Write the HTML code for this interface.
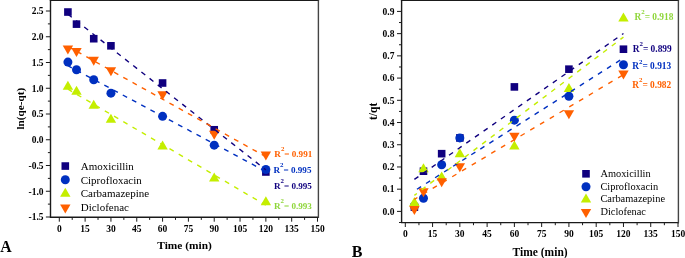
<!DOCTYPE html>
<html><head><meta charset="utf-8"><title>Kinetic fits</title>
<style>
html,body{margin:0;padding:0;background:#fff;}
body{width:685px;height:258px;overflow:hidden;}
svg{display:block;will-change:transform;}
</style></head><body>
<svg width="685" height="258" viewBox="0 0 685 258">
<rect width="685" height="258" fill="#fff"/>
<path d="M50.5 0.25V217.3H318" fill="none" stroke="#1a1a1a" stroke-width="1.4" stroke-linecap="square"/>
<line x1="49.8" y1="0.25" x2="319.1" y2="0.25" stroke="#1a1a1a" stroke-width="1.4"/>
<line x1="318.4" y1="0.25" x2="318.4" y2="218" stroke="#444" stroke-width="1.4"/>
<line x1="45.9" y1="217" x2="50.5" y2="217" stroke="#1a1a1a" stroke-width="1"/>
<text x="43.6" y="220.3" text-anchor="end" style='font-family:"Liberation Serif",serif;font-weight:bold;font-size:9.5px'>-1.5</text>
<line x1="47.9" y1="204.12" x2="50.5" y2="204.12" stroke="#1a1a1a" stroke-width="1"/>
<line x1="45.9" y1="191.25" x2="50.5" y2="191.25" stroke="#1a1a1a" stroke-width="1"/>
<text x="43.6" y="194.55" text-anchor="end" style='font-family:"Liberation Serif",serif;font-weight:bold;font-size:9.5px'>-1.0</text>
<line x1="47.9" y1="178.38" x2="50.5" y2="178.38" stroke="#1a1a1a" stroke-width="1"/>
<line x1="45.9" y1="165.5" x2="50.5" y2="165.5" stroke="#1a1a1a" stroke-width="1"/>
<text x="43.6" y="168.8" text-anchor="end" style='font-family:"Liberation Serif",serif;font-weight:bold;font-size:9.5px'>-0.5</text>
<line x1="47.9" y1="152.62" x2="50.5" y2="152.62" stroke="#1a1a1a" stroke-width="1"/>
<line x1="45.9" y1="139.75" x2="50.5" y2="139.75" stroke="#1a1a1a" stroke-width="1"/>
<text x="43.6" y="143.05" text-anchor="end" style='font-family:"Liberation Serif",serif;font-weight:bold;font-size:9.5px'>0.0</text>
<line x1="47.9" y1="126.88" x2="50.5" y2="126.88" stroke="#1a1a1a" stroke-width="1"/>
<line x1="45.9" y1="114" x2="50.5" y2="114" stroke="#1a1a1a" stroke-width="1"/>
<text x="43.6" y="117.3" text-anchor="end" style='font-family:"Liberation Serif",serif;font-weight:bold;font-size:9.5px'>0.5</text>
<line x1="47.9" y1="101.12" x2="50.5" y2="101.12" stroke="#1a1a1a" stroke-width="1"/>
<line x1="45.9" y1="88.25" x2="50.5" y2="88.25" stroke="#1a1a1a" stroke-width="1"/>
<text x="43.6" y="91.55" text-anchor="end" style='font-family:"Liberation Serif",serif;font-weight:bold;font-size:9.5px'>1.0</text>
<line x1="47.9" y1="75.38" x2="50.5" y2="75.38" stroke="#1a1a1a" stroke-width="1"/>
<line x1="45.9" y1="62.5" x2="50.5" y2="62.5" stroke="#1a1a1a" stroke-width="1"/>
<text x="43.6" y="65.8" text-anchor="end" style='font-family:"Liberation Serif",serif;font-weight:bold;font-size:9.5px'>1.5</text>
<line x1="47.9" y1="49.62" x2="50.5" y2="49.62" stroke="#1a1a1a" stroke-width="1"/>
<line x1="45.9" y1="36.75" x2="50.5" y2="36.75" stroke="#1a1a1a" stroke-width="1"/>
<text x="43.6" y="40.05" text-anchor="end" style='font-family:"Liberation Serif",serif;font-weight:bold;font-size:9.5px'>2.0</text>
<line x1="47.9" y1="23.88" x2="50.5" y2="23.88" stroke="#1a1a1a" stroke-width="1"/>
<line x1="45.9" y1="11" x2="50.5" y2="11" stroke="#1a1a1a" stroke-width="1"/>
<text x="43.6" y="14.3" text-anchor="end" style='font-family:"Liberation Serif",serif;font-weight:bold;font-size:9.5px'>2.5</text>
<line x1="59.3" y1="217.3" x2="59.3" y2="221.7" stroke="#1a1a1a" stroke-width="1"/>
<text x="59.3" y="231.5" text-anchor="middle" style='font-family:"Liberation Serif",serif;font-weight:bold;font-size:9.5px'>0</text>
<line x1="72.21" y1="217.3" x2="72.21" y2="219.9" stroke="#1a1a1a" stroke-width="1"/>
<line x1="85.12" y1="217.3" x2="85.12" y2="221.7" stroke="#1a1a1a" stroke-width="1"/>
<text x="85.12" y="231.5" text-anchor="middle" style='font-family:"Liberation Serif",serif;font-weight:bold;font-size:9.5px'>15</text>
<line x1="98.03" y1="217.3" x2="98.03" y2="219.9" stroke="#1a1a1a" stroke-width="1"/>
<line x1="110.94" y1="217.3" x2="110.94" y2="221.7" stroke="#1a1a1a" stroke-width="1"/>
<text x="110.94" y="231.5" text-anchor="middle" style='font-family:"Liberation Serif",serif;font-weight:bold;font-size:9.5px'>30</text>
<line x1="123.85" y1="217.3" x2="123.85" y2="219.9" stroke="#1a1a1a" stroke-width="1"/>
<line x1="136.76" y1="217.3" x2="136.76" y2="221.7" stroke="#1a1a1a" stroke-width="1"/>
<text x="136.76" y="231.5" text-anchor="middle" style='font-family:"Liberation Serif",serif;font-weight:bold;font-size:9.5px'>45</text>
<line x1="149.67" y1="217.3" x2="149.67" y2="219.9" stroke="#1a1a1a" stroke-width="1"/>
<line x1="162.58" y1="217.3" x2="162.58" y2="221.7" stroke="#1a1a1a" stroke-width="1"/>
<text x="162.58" y="231.5" text-anchor="middle" style='font-family:"Liberation Serif",serif;font-weight:bold;font-size:9.5px'>60</text>
<line x1="175.49" y1="217.3" x2="175.49" y2="219.9" stroke="#1a1a1a" stroke-width="1"/>
<line x1="188.4" y1="217.3" x2="188.4" y2="221.7" stroke="#1a1a1a" stroke-width="1"/>
<text x="188.4" y="231.5" text-anchor="middle" style='font-family:"Liberation Serif",serif;font-weight:bold;font-size:9.5px'>75</text>
<line x1="201.31" y1="217.3" x2="201.31" y2="219.9" stroke="#1a1a1a" stroke-width="1"/>
<line x1="214.22" y1="217.3" x2="214.22" y2="221.7" stroke="#1a1a1a" stroke-width="1"/>
<text x="214.22" y="231.5" text-anchor="middle" style='font-family:"Liberation Serif",serif;font-weight:bold;font-size:9.5px'>90</text>
<line x1="227.13" y1="217.3" x2="227.13" y2="219.9" stroke="#1a1a1a" stroke-width="1"/>
<line x1="240.04" y1="217.3" x2="240.04" y2="221.7" stroke="#1a1a1a" stroke-width="1"/>
<text x="240.04" y="231.5" text-anchor="middle" style='font-family:"Liberation Serif",serif;font-weight:bold;font-size:9.5px'>105</text>
<line x1="252.95" y1="217.3" x2="252.95" y2="219.9" stroke="#1a1a1a" stroke-width="1"/>
<line x1="265.86" y1="217.3" x2="265.86" y2="221.7" stroke="#1a1a1a" stroke-width="1"/>
<text x="265.86" y="231.5" text-anchor="middle" style='font-family:"Liberation Serif",serif;font-weight:bold;font-size:9.5px'>120</text>
<line x1="278.77" y1="217.3" x2="278.77" y2="219.9" stroke="#1a1a1a" stroke-width="1"/>
<line x1="291.68" y1="217.3" x2="291.68" y2="221.7" stroke="#1a1a1a" stroke-width="1"/>
<text x="291.68" y="231.5" text-anchor="middle" style='font-family:"Liberation Serif",serif;font-weight:bold;font-size:9.5px'>135</text>
<line x1="304.59" y1="217.3" x2="304.59" y2="219.9" stroke="#1a1a1a" stroke-width="1"/>
<line x1="317.5" y1="217.3" x2="317.5" y2="221.7" stroke="#1a1a1a" stroke-width="1"/>
<text x="317.5" y="231.5" text-anchor="middle" style='font-family:"Liberation Serif",serif;font-weight:bold;font-size:9.5px'>150</text>
<rect x="64.11" y="8.23" width="7.6" height="7.6" fill="#10007f"/>
<rect x="72.71" y="20.33" width="7.6" height="7.6" fill="#10007f"/>
<rect x="89.93" y="34.91" width="7.6" height="7.6" fill="#10007f"/>
<rect x="107.14" y="42.01" width="7.6" height="7.6" fill="#10007f"/>
<rect x="158.78" y="79.2" width="7.6" height="7.6" fill="#10007f"/>
<rect x="210.42" y="125.96" width="7.6" height="7.6" fill="#10007f"/>
<rect x="262.06" y="168.19" width="7.6" height="7.6" fill="#10007f"/>
<circle cx="67.91" cy="62.09" r="4.5" fill="#0030c0"/>
<circle cx="76.51" cy="69.71" r="4.5" fill="#0030c0"/>
<circle cx="93.73" cy="79.8" r="4.5" fill="#0030c0"/>
<circle cx="110.94" cy="93.19" r="4.5" fill="#0030c0"/>
<circle cx="162.58" cy="116.32" r="4.5" fill="#0030c0"/>
<circle cx="214.22" cy="145.16" r="4.5" fill="#0030c0"/>
<circle cx="265.86" cy="169.52" r="4.5" fill="#0030c0"/>
<path d="M67.91 80.71L73.11 89.71L62.71 89.71Z" fill="#c4ee00"/>
<path d="M76.51 85.86L81.71 94.86L71.31 94.86Z" fill="#c4ee00"/>
<path d="M93.73 99.72L98.93 108.72L88.53 108.72Z" fill="#c4ee00"/>
<path d="M110.94 113.72L116.14 122.72L105.74 122.72Z" fill="#c4ee00"/>
<path d="M162.58 140.4L167.78 149.4L157.38 149.4Z" fill="#c4ee00"/>
<path d="M214.22 172.54L219.42 181.54L209.02 181.54Z" fill="#c4ee00"/>
<path d="M265.86 196.17L271.06 205.17L260.66 205.17Z" fill="#c4ee00"/>
<path d="M62.71 45.59L73.11 45.59L67.91 54.59Z" fill="#ff6000"/>
<path d="M71.31 47.91L81.71 47.91L76.51 56.91Z" fill="#ff6000"/>
<path d="M88.53 56.71L98.93 56.71L93.73 65.71Z" fill="#ff6000"/>
<path d="M105.74 67.22L116.14 67.22L110.94 76.22Z" fill="#ff6000"/>
<path d="M157.38 91.37L167.78 91.37L162.58 100.37Z" fill="#ff6000"/>
<path d="M209.02 130.82L219.42 130.82L214.22 139.82Z" fill="#ff6000"/>
<path d="M260.66 151.52L271.06 151.52L265.86 160.52Z" fill="#ff6000"/>
<line x1="67.91" y1="14.19" x2="265.86" y2="169.87" stroke="#10007f" stroke-width="1.4" stroke-dasharray="4.9 5.49" stroke-dashoffset="0"/>
<line x1="67.91" y1="65.69" x2="265.86" y2="171.47" stroke="#0030c0" stroke-width="1.4" stroke-dasharray="4.9 5.55" stroke-dashoffset="0.5"/>
<line x1="68" y1="89.2" x2="265.8" y2="205.2" stroke="#c4ee00" stroke-width="1.4" stroke-dasharray="4.9 5.81" stroke-dashoffset="0.17"/>
<line x1="68" y1="46.5" x2="265.8" y2="156.7" stroke="#ff6000" stroke-width="1.4" stroke-dasharray="4.9 5.67" stroke-dashoffset="0.14"/>
<path d="M401.6 0.25V222.6H678" fill="none" stroke="#1a1a1a" stroke-width="1.4" stroke-linecap="square"/>
<line x1="400.9" y1="0.25" x2="679.1" y2="0.25" stroke="#1a1a1a" stroke-width="1.4"/>
<line x1="678.4" y1="0.25" x2="678.4" y2="223.3" stroke="#444" stroke-width="1.4"/>
<line x1="399" y1="222.51" x2="401.6" y2="222.51" stroke="#1a1a1a" stroke-width="1"/>
<line x1="397" y1="211.4" x2="401.6" y2="211.4" stroke="#1a1a1a" stroke-width="1"/>
<text x="394.4" y="214.7" text-anchor="end" style='font-family:"Liberation Serif",serif;font-weight:bold;font-size:9.5px'>0.0</text>
<line x1="399" y1="200.29" x2="401.6" y2="200.29" stroke="#1a1a1a" stroke-width="1"/>
<line x1="397" y1="189.18" x2="401.6" y2="189.18" stroke="#1a1a1a" stroke-width="1"/>
<text x="394.4" y="192.48" text-anchor="end" style='font-family:"Liberation Serif",serif;font-weight:bold;font-size:9.5px'>0.1</text>
<line x1="399" y1="178.07" x2="401.6" y2="178.07" stroke="#1a1a1a" stroke-width="1"/>
<line x1="397" y1="166.96" x2="401.6" y2="166.96" stroke="#1a1a1a" stroke-width="1"/>
<text x="394.4" y="170.26" text-anchor="end" style='font-family:"Liberation Serif",serif;font-weight:bold;font-size:9.5px'>0.2</text>
<line x1="399" y1="155.85" x2="401.6" y2="155.85" stroke="#1a1a1a" stroke-width="1"/>
<line x1="397" y1="144.74" x2="401.6" y2="144.74" stroke="#1a1a1a" stroke-width="1"/>
<text x="394.4" y="148.04" text-anchor="end" style='font-family:"Liberation Serif",serif;font-weight:bold;font-size:9.5px'>0.3</text>
<line x1="399" y1="133.63" x2="401.6" y2="133.63" stroke="#1a1a1a" stroke-width="1"/>
<line x1="397" y1="122.52" x2="401.6" y2="122.52" stroke="#1a1a1a" stroke-width="1"/>
<text x="394.4" y="125.82" text-anchor="end" style='font-family:"Liberation Serif",serif;font-weight:bold;font-size:9.5px'>0.4</text>
<line x1="399" y1="111.41" x2="401.6" y2="111.41" stroke="#1a1a1a" stroke-width="1"/>
<line x1="397" y1="100.3" x2="401.6" y2="100.3" stroke="#1a1a1a" stroke-width="1"/>
<text x="394.4" y="103.6" text-anchor="end" style='font-family:"Liberation Serif",serif;font-weight:bold;font-size:9.5px'>0.5</text>
<line x1="399" y1="89.19" x2="401.6" y2="89.19" stroke="#1a1a1a" stroke-width="1"/>
<line x1="397" y1="78.08" x2="401.6" y2="78.08" stroke="#1a1a1a" stroke-width="1"/>
<text x="394.4" y="81.38" text-anchor="end" style='font-family:"Liberation Serif",serif;font-weight:bold;font-size:9.5px'>0.6</text>
<line x1="399" y1="66.97" x2="401.6" y2="66.97" stroke="#1a1a1a" stroke-width="1"/>
<line x1="397" y1="55.86" x2="401.6" y2="55.86" stroke="#1a1a1a" stroke-width="1"/>
<text x="394.4" y="59.16" text-anchor="end" style='font-family:"Liberation Serif",serif;font-weight:bold;font-size:9.5px'>0.7</text>
<line x1="399" y1="44.75" x2="401.6" y2="44.75" stroke="#1a1a1a" stroke-width="1"/>
<line x1="397" y1="33.64" x2="401.6" y2="33.64" stroke="#1a1a1a" stroke-width="1"/>
<text x="394.4" y="36.94" text-anchor="end" style='font-family:"Liberation Serif",serif;font-weight:bold;font-size:9.5px'>0.8</text>
<line x1="399" y1="22.53" x2="401.6" y2="22.53" stroke="#1a1a1a" stroke-width="1"/>
<line x1="397" y1="11.42" x2="401.6" y2="11.42" stroke="#1a1a1a" stroke-width="1"/>
<text x="394.4" y="14.72" text-anchor="end" style='font-family:"Liberation Serif",serif;font-weight:bold;font-size:9.5px'>0.9</text>
<line x1="405.3" y1="222.6" x2="405.3" y2="227" stroke="#1a1a1a" stroke-width="1"/>
<text x="405.3" y="237.4" text-anchor="middle" style='font-family:"Liberation Serif",serif;font-weight:bold;font-size:9.5px'>0</text>
<line x1="418.94" y1="222.6" x2="418.94" y2="225.2" stroke="#1a1a1a" stroke-width="1"/>
<line x1="432.57" y1="222.6" x2="432.57" y2="227" stroke="#1a1a1a" stroke-width="1"/>
<text x="432.57" y="237.4" text-anchor="middle" style='font-family:"Liberation Serif",serif;font-weight:bold;font-size:9.5px'>15</text>
<line x1="446.21" y1="222.6" x2="446.21" y2="225.2" stroke="#1a1a1a" stroke-width="1"/>
<line x1="459.84" y1="222.6" x2="459.84" y2="227" stroke="#1a1a1a" stroke-width="1"/>
<text x="459.84" y="237.4" text-anchor="middle" style='font-family:"Liberation Serif",serif;font-weight:bold;font-size:9.5px'>30</text>
<line x1="473.48" y1="222.6" x2="473.48" y2="225.2" stroke="#1a1a1a" stroke-width="1"/>
<line x1="487.11" y1="222.6" x2="487.11" y2="227" stroke="#1a1a1a" stroke-width="1"/>
<text x="487.11" y="237.4" text-anchor="middle" style='font-family:"Liberation Serif",serif;font-weight:bold;font-size:9.5px'>45</text>
<line x1="500.75" y1="222.6" x2="500.75" y2="225.2" stroke="#1a1a1a" stroke-width="1"/>
<line x1="514.38" y1="222.6" x2="514.38" y2="227" stroke="#1a1a1a" stroke-width="1"/>
<text x="514.38" y="237.4" text-anchor="middle" style='font-family:"Liberation Serif",serif;font-weight:bold;font-size:9.5px'>60</text>
<line x1="528.01" y1="222.6" x2="528.01" y2="225.2" stroke="#1a1a1a" stroke-width="1"/>
<line x1="541.65" y1="222.6" x2="541.65" y2="227" stroke="#1a1a1a" stroke-width="1"/>
<text x="541.65" y="237.4" text-anchor="middle" style='font-family:"Liberation Serif",serif;font-weight:bold;font-size:9.5px'>75</text>
<line x1="555.29" y1="222.6" x2="555.29" y2="225.2" stroke="#1a1a1a" stroke-width="1"/>
<line x1="568.92" y1="222.6" x2="568.92" y2="227" stroke="#1a1a1a" stroke-width="1"/>
<text x="568.92" y="237.4" text-anchor="middle" style='font-family:"Liberation Serif",serif;font-weight:bold;font-size:9.5px'>90</text>
<line x1="582.56" y1="222.6" x2="582.56" y2="225.2" stroke="#1a1a1a" stroke-width="1"/>
<line x1="596.19" y1="222.6" x2="596.19" y2="227" stroke="#1a1a1a" stroke-width="1"/>
<text x="596.19" y="237.4" text-anchor="middle" style='font-family:"Liberation Serif",serif;font-weight:bold;font-size:9.5px'>105</text>
<line x1="609.83" y1="222.6" x2="609.83" y2="225.2" stroke="#1a1a1a" stroke-width="1"/>
<line x1="623.46" y1="222.6" x2="623.46" y2="227" stroke="#1a1a1a" stroke-width="1"/>
<text x="623.46" y="237.4" text-anchor="middle" style='font-family:"Liberation Serif",serif;font-weight:bold;font-size:9.5px'>120</text>
<line x1="637.1" y1="222.6" x2="637.1" y2="225.2" stroke="#1a1a1a" stroke-width="1"/>
<line x1="650.73" y1="222.6" x2="650.73" y2="227" stroke="#1a1a1a" stroke-width="1"/>
<text x="650.73" y="237.4" text-anchor="middle" style='font-family:"Liberation Serif",serif;font-weight:bold;font-size:9.5px'>135</text>
<line x1="664.37" y1="222.6" x2="664.37" y2="225.2" stroke="#1a1a1a" stroke-width="1"/>
<line x1="678" y1="222.6" x2="678" y2="227" stroke="#1a1a1a" stroke-width="1"/>
<text x="678" y="237.4" text-anchor="middle" style='font-family:"Liberation Serif",serif;font-weight:bold;font-size:9.5px'>150</text>
<rect x="410.59" y="203.33" width="7.6" height="7.6" fill="#10007f"/>
<rect x="419.68" y="167.4" width="7.6" height="7.6" fill="#10007f"/>
<rect x="437.86" y="149.88" width="7.6" height="7.6" fill="#10007f"/>
<rect x="456.04" y="134.13" width="7.6" height="7.6" fill="#10007f"/>
<rect x="510.58" y="83.11" width="7.6" height="7.6" fill="#10007f"/>
<rect x="565.12" y="65.37" width="7.6" height="7.6" fill="#10007f"/>
<rect x="619.66" y="45.41" width="7.6" height="7.6" fill="#10007f"/>
<circle cx="414.39" cy="206.02" r="4.5" fill="#0030c0"/>
<circle cx="423.48" cy="198.26" r="4.5" fill="#0030c0"/>
<circle cx="441.66" cy="164.77" r="4.5" fill="#0030c0"/>
<circle cx="459.84" cy="137.93" r="4.5" fill="#0030c0"/>
<circle cx="514.38" cy="120.18" r="4.5" fill="#0030c0"/>
<circle cx="568.92" cy="96.23" r="4.5" fill="#0030c0"/>
<circle cx="623.46" cy="64.73" r="4.5" fill="#0030c0"/>
<path d="M414.39 197L419.59 206L409.19 206Z" fill="#c4ee00"/>
<path d="M423.48 163.15L428.68 172.15L418.28 172.15Z" fill="#c4ee00"/>
<path d="M441.66 171.58L446.86 180.58L436.46 180.58Z" fill="#c4ee00"/>
<path d="M459.84 148.29L465.04 157.29L454.64 157.29Z" fill="#c4ee00"/>
<path d="M514.38 140.53L519.58 149.53L509.18 149.53Z" fill="#c4ee00"/>
<path d="M568.92 83.08L574.12 92.08L563.72 92.08Z" fill="#c4ee00"/>
<path d="M623.46 12.55L628.66 21.55L618.26 21.55Z" fill="#c4ee00"/>
<path d="M409.19 205.96L419.59 205.96L414.39 214.96Z" fill="#ff6000"/>
<path d="M418.28 188.21L428.68 188.21L423.48 197.21Z" fill="#ff6000"/>
<path d="M436.46 178.23L446.86 178.23L441.66 187.23Z" fill="#ff6000"/>
<path d="M454.64 163.37L465.04 163.37L459.84 172.37Z" fill="#ff6000"/>
<path d="M509.18 132.76L519.58 132.76L514.38 141.76Z" fill="#ff6000"/>
<path d="M563.72 110.36L574.12 110.36L568.92 119.36Z" fill="#ff6000"/>
<path d="M618.26 70.44L628.66 70.44L623.46 79.44Z" fill="#ff6000"/>
<line x1="414.39" y1="179.41" x2="623.46" y2="33.5" stroke="#10007f" stroke-width="1.4" stroke-dasharray="4.9 5.65" stroke-dashoffset="0"/>
<line x1="414.39" y1="190.9" x2="623.46" y2="58.1" stroke="#0030c0" stroke-width="1.4" stroke-dasharray="4.9 5.82" stroke-dashoffset="7.68"/>
<line x1="414.39" y1="195.35" x2="623.46" y2="37.13" stroke="#c4ee00" stroke-width="1.4" stroke-dasharray="4.9 5.94" stroke-dashoffset="1.78"/>
<line x1="414.39" y1="199.3" x2="623.46" y2="74.6" stroke="#ff6000" stroke-width="1.4" stroke-dasharray="4.9 6.46" stroke-dashoffset="1.42"/>
<text transform="translate(23.8 108.7) rotate(-90)" text-anchor="middle" style='font-family:"Liberation Serif",serif;font-weight:bold;font-size:11.2px'>ln(qe-qt)</text>
<text x="184.5" y="248.9" text-anchor="middle" style='font-family:"Liberation Serif",serif;font-weight:bold;font-size:11.4px'>Time (min)</text>
<text transform="translate(376.8 111.4) rotate(-90)" text-anchor="middle" style='font-family:"Liberation Serif",serif;font-weight:bold;font-size:11.5px'>t/qt</text>
<text x="540.1" y="256" text-anchor="middle" style='font-family:"Liberation Serif",serif;font-weight:bold;font-size:11.5px'>Time (min)</text>
<text x="0.3" y="251.9" style='font-family:"Liberation Serif",serif;font-weight:bold;font-size:15.8px'>A</text>
<text x="351.8" y="256.6" style='font-family:"Liberation Serif",serif;font-weight:bold;font-size:16px'>B</text>
<rect x="61.5" y="162.25" width="7.6" height="7.6" fill="#10007f"/>
<text x="80.7" y="170" style='font-family:"Liberation Serif",serif;font-size:11px'>Amoxicillin</text>
<circle cx="65.3" cy="179.7" r="4.5" fill="#0030c0"/>
<text x="80.7" y="183.6" style='font-family:"Liberation Serif",serif;font-size:11px'>Ciprofloxacin</text>
<path d="M65.3 187.7L70.5 196.7L60.1 196.7Z" fill="#c4ee00"/>
<text x="80.7" y="197.3" style='font-family:"Liberation Serif",serif;font-size:11px'>Carbamazepine</text>
<path d="M60.1 204.5L70.5 204.5L65.3 213.5Z" fill="#ff6000"/>
<text x="80.7" y="211.3" style='font-family:"Liberation Serif",serif;font-size:11px'>Diclofenac</text>
<rect x="582.2" y="170" width="7.6" height="7.6" fill="#10007f"/>
<text x="600.4" y="177.2" style='font-family:"Liberation Serif",serif;font-size:10.4px'>Amoxicillin</text>
<circle cx="586" cy="186.8" r="4.5" fill="#0030c0"/>
<text x="600.4" y="189.7" style='font-family:"Liberation Serif",serif;font-size:10.4px'>Ciprofloxacin</text>
<path d="M586 193.6L591.2 202.6L580.8 202.6Z" fill="#c4ee00"/>
<text x="600.4" y="202.3" style='font-family:"Liberation Serif",serif;font-size:10.4px'>Carbamazepine</text>
<path d="M580.8 209.1L591.2 209.1L586 218.1Z" fill="#ff6000"/>
<text x="600.4" y="215.2" style='font-family:"Liberation Serif",serif;font-size:10.4px'>Diclofenac</text>
<text x="274.3" y="156.9" fill="#ff6000" style='font-family:"Liberation Serif",serif;font-weight:bold;font-size:9.1px'>R<tspan dy="-5.5" style="font-size:6.9px">2</tspan><tspan dy="5.5">= 0.991</tspan></text>
<text x="273.5" y="172.8" fill="#0030c0" style='font-family:"Liberation Serif",serif;font-weight:bold;font-size:9.1px'>R<tspan dy="-5.5" style="font-size:6.9px">2</tspan><tspan dy="5.5">= 0.995</tspan></text>
<text x="273.9" y="188.8" fill="#10007f" style='font-family:"Liberation Serif",serif;font-weight:bold;font-size:9.1px'>R<tspan dy="-5.5" style="font-size:6.9px">2</tspan><tspan dy="5.5">= 0.995</tspan></text>
<text x="273.9" y="208.6" fill="#8fd63a" style='font-family:"Liberation Serif",serif;font-weight:bold;font-size:9.1px'>R<tspan dy="-5.5" style="font-size:6.9px">2</tspan><tspan dy="5.5">= 0.993</tspan></text>
<text x="634.4" y="19.9" fill="#8fd63a" style='font-family:"Liberation Serif",serif;font-weight:bold;font-size:9.4px'>R<tspan dy="-5.5" style="font-size:6.9px">2</tspan><tspan dy="5.5">= 0.918</tspan></text>
<text x="632.7" y="51.8" fill="#10007f" style='font-family:"Liberation Serif",serif;font-weight:bold;font-size:9.4px'>R<tspan dy="-5.5" style="font-size:6.9px">2</tspan><tspan dy="5.5">= 0.899</tspan></text>
<text x="632.2" y="69.1" fill="#0030c0" style='font-family:"Liberation Serif",serif;font-weight:bold;font-size:9.4px'>R<tspan dy="-5.5" style="font-size:6.9px">2</tspan><tspan dy="5.5">= 0.913</tspan></text>
<text x="632.2" y="87.9" fill="#ff6000" style='font-family:"Liberation Serif",serif;font-weight:bold;font-size:9.4px'>R<tspan dy="-5.5" style="font-size:6.9px">2</tspan><tspan dy="5.5">= 0.982</tspan></text>
</svg>
</body></html>
